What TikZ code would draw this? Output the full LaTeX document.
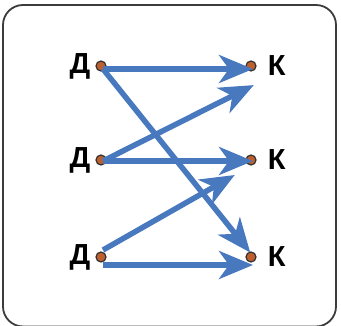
\documentclass[tikz,border=0pt]{standalone}
\usepackage{fontspec}
\setmainfont{Liberation Sans}
\usepackage{tikz}
\usetikzlibrary{positioning, arrows.meta}
\definecolor{arrowblue}{RGB}{72, 120, 190}
\definecolor{dotbrown}{RGB}{190, 95, 45}
\definecolor{framegray}{RGB}{60, 60, 60}
\tikzset{
  % Endpoint dot
  dot/.style={
    circle, inner sep=0pt, minimum size=10pt,
    fill=dotbrown, draw=black!80, line width=1.2pt
  },
  % Letter label
  letter/.style={font=\fontsize{29pt}{32pt}\selectfont\bfseries, inner sep=0pt},
  % Arrow style
  arr/.style={-{Stealth[length=34pt, width=28pt, inset=10pt]},
    line width=5.5pt, color=arrowblue, shorten >=-2pt},
}
\begin{document}
\begin{tikzpicture}[x=1pt, y=-1pt]
  \useasboundingbox (0,0) rectangle (341,326);
  \draw[framegray, line width=1.8pt, rounded corners=20pt]
    (3,5) rectangle (336,326.5);
  % left column
  \node[dot] (d1) at (101,66) {};
  \node[dot] (d2) at (101,160) {};
  \node[dot] (d3) at (101,257) {};
  % right column
  \node[dot] (k1) at (251,66) {};
  \node[dot] (k2) at (251,160) {};
  \node[dot] (k3) at (251,257) {};
  \node[letter, left=5pt of d1]  (ld1) {Д};
  \node[letter, left=5pt of d2]  (ld2) {Д};
  \node[letter, left=5pt of d3]  (ld3) {Д};
  \node[letter, right=11pt of k1] (lk1) {К};
  \node[letter, right=11pt of k2] (lk2) {К};
  \node[letter, right=11pt of k3] (lk3) {К};
  % free ends
  \coordinate (e1) at (252,86);
  \coordinate (e2) at (233,176);
  \draw[arr] ([shift={(2,3)}]d1.center) -- ([shift={(0,3)}]k1.center);
  \draw[arr] ([shift={(2,3)}]d1.center) -- ([shift={(-2,-6)}]k3.center);
  \draw[arr] ([shift={(2,1)}]d2.center) -- (e1);
  \draw[arr] ([shift={(2,1)}]d2.center) -- ([shift={(0,1)}]k2.center);
  \draw[arr] ([shift={(2,-7)}]d3.center) -- (e2);
  \draw[arr] ([shift={(2,8)}]d3.center) -- ([shift={(0,8)}]k3.center);
\end{tikzpicture}
\end{document}
